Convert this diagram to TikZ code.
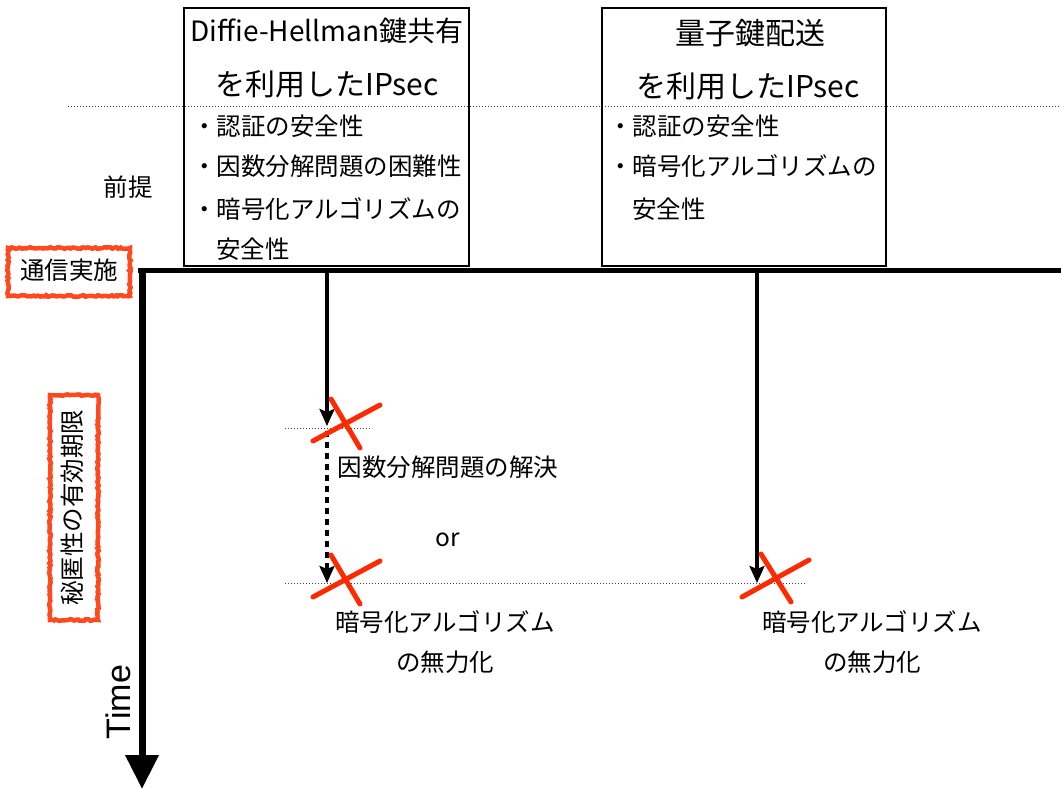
\documentclass[tikz,border=0pt]{standalone}
\usepackage{fontspec}
\setmainfont{Noto Sans CJK JP}
\newfontfamily\timefont{Liberation Sans}
\usetikzlibrary{arrows.meta,decorations.pathmorphing}
\definecolor{xred}{HTML}{FF2A00}
\definecolor{boxred}{HTML}{FF4A1F}
\tikzset{
  frame/.style={draw,line width=1.8pt,inner sep=0pt},
  rough/.style={draw=boxred,line width=4.5pt,inner sep=0pt,
    decorate,decoration={random steps,segment length=2pt,amplitude=0.8pt}},
  txt/.style={font=\fontsize{24.5}{24.5}\selectfont,inner sep=0pt},
  ttl/.style={font=\fontsize{30}{30}\selectfont,inner sep=0pt},
  guide/.style={line width=0.9pt,dash pattern=on 1pt off 2pt,black!75},
  cross/.style={xred,line width=5pt,line cap=round},
  flow/.style={line width=3.2pt,-{Stealth[length=17pt,width=15pt,inset=3pt]}},
}
\begin{document}
\begin{tikzpicture}[x=1pt,y=-1pt]
\useasboundingbox (0,0) rectangle (1061,789);
% guides
\draw[guide] (68,106) -- (1061,106);
\draw[guide] (285,428) -- (372,428);
\draw[guide] (285,583) -- (806,583);
% boxes
\node[frame,minimum width=285pt,minimum height=258pt] (box1) at (326.5,137) {};
\node[frame,minimum width=284pt,minimum height=258pt] (box2) at (744,137) {};
\node[ttl,font=\fontsize{28}{28}\selectfont] (t1a) at (327,31) {Diffie-Hellman鍵共有};
\node[ttl] (t1b) at (327,84) {を利用したIPsec};
\node[ttl] (t2a) at (750,33) {量子鍵配送};
\node[ttl] (t2b) at (748,86) {を利用したIPsec};
\node[txt,anchor=west] (b11) at (192,126) {・認証の安全性};
\node[txt,anchor=west] (b12) at (192,166) {・因数分解問題の困難性};
\node[txt,anchor=west] (b13) at (192,209) {・暗号化アルゴリズムの};
\node[txt,anchor=west] (b14) at (216,249) {安全性};
\node[txt,anchor=west] (b21) at (608,126) {・認証の安全性};
\node[txt,anchor=west] (b22) at (608,166) {・暗号化アルゴリズムの};
\node[txt,anchor=west] (b23) at (632,209) {安全性};
% left labels
\node[txt] (pre) at (128,187) {前提};
\node[rough,minimum width=122pt,minimum height=48pt] (runbox) at (69,272) {};
\node[txt] (run) at (69,270) {通信実施};
\node[rough,minimum width=225pt,minimum height=48pt,rotate=90] (limbox) at (74,507.5) {};
\node[txt,rotate=90] (lim) at (72,507.5) {秘匿性の有効期限};
\node[font=\timefont\fontsize{34}{34}\selectfont,rotate=90,inner sep=0pt] (time) at (118,702) {Time};
% axes
\coordinate (origin) at (142,270);
\coordinate (hend) at (1061,270);
\coordinate (vend) at (142,789);
\draw[line width=5pt] ([xshift=-4pt]origin) -- (hend);
\draw[line width=7pt,-{Triangle[length=34pt,width=32pt]}] ([yshift=-2pt]origin) -- (vend);
% arrows
\coordinate (a1s) at (327,272);
\coordinate (a1e) at (327,426);
\coordinate (a2s) at (327,431);
\coordinate (a2e) at (327,583);
\coordinate (a3s) at (757,272);
\coordinate (a3e) at (757,583);
\draw[flow] (a1s) -- (a1e);
\draw[flow,dash pattern=on 6pt off 5pt] (a2s) -- (a2e);
\draw[flow] (a3s) -- (a3e);
% crosses
\draw[cross] (331,399) -- (360,448) (313,441) -- (380,405);
\draw[cross] (331,555) -- (360,604) (313,597) -- (380,561);
\draw[cross] (761,554) -- (791,602) (742,597) -- (809,560);
% result texts
\node[txt] (r1) at (448,467) {因数分解問題の解決};
\node[txt] (or) at (448,540) {or};
\node[txt] (r2a) at (445,622) {暗号化アルゴリズム};
\node[txt] (r2b) at (445,662) {の無力化};
\node[txt] (r3a) at (872,622) {暗号化アルゴリズム};
\node[txt] (r3b) at (872,662) {の無力化};
\end{tikzpicture}
\end{document}
